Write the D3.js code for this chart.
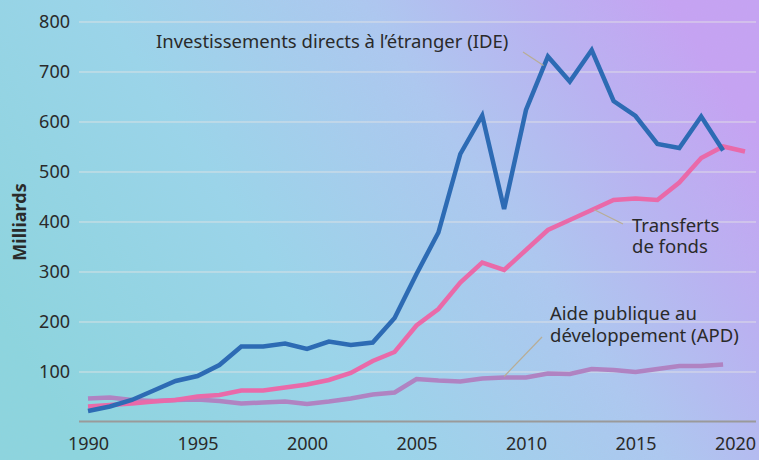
<!DOCTYPE html>
<html>
<head>
<meta charset="utf-8">
<script src="https://cdn.jsdelivr.net/npm/d3@7"></script>
<style>
  html, body { margin: 0; padding: 0; }
  body { width: 759px; height: 460px; overflow: hidden; }
  text { font-family: "Noto Sans", sans-serif; fill: #2a2a2a; }
</style>
</head>
<body>
<div id="chart"></div>
<script>
// Data (billions).
const years = d3.range(1990, 2021);
const ide = [21, 30, 43, 62, 81, 91, 113, 150, 150, 156, 145, 160, 153, 158, 207, 295, 378, 535, 612, 425,
  623, 730, 680, 743, 641, 611, 555, 547, 610, 542];
const transferts = [30, 33, 36, 40, 43, 50, 53, 62, 62, 68, 74, 83, 97, 121, 139, 192, 225, 278, 318, 303,
  343, 383, 403, 423, 443, 446, 443, 478, 527, 550, 540];
const apd = [46, 48, 43, 41, 43, 44, 41, 36, 38, 40, 35, 40, 46, 54, 58, 85, 82, 80, 86, 88,
  88, 96, 95, 105, 103, 99, 105, 111, 111, 114];
const yTicks = [100, 200, 300, 400, 500, 600, 700, 800];
const xTicks = [1990, 1995, 2000, 2005, 2010, 2015, 2020];

const width = 759;
const height = 460;

const svg = d3.select("#chart")
  .append("svg")
  .attr("width", width)
  .attr("height", height);

// Background gradient with a light paper grain.
const defs = svg.append("defs");
const grad = defs.append("linearGradient")
  .attr("id", "bg")
  .attr("x1", "0").attr("y1", "0.7")
  .attr("x2", "1").attr("y2", "0.3");
grad.append("stop").attr("offset", "0").attr("stop-color", "#8cd5df");
grad.append("stop").attr("offset", "0.35").attr("stop-color", "#9ad5eb");
grad.append("stop").attr("offset", "0.65").attr("stop-color", "#adc8f1");
grad.append("stop").attr("offset", "0.85").attr("stop-color", "#bab1f3");
grad.append("stop").attr("offset", "1").attr("stop-color", "#c6a2f4");

const noise = defs.append("filter").attr("id", "grain");
noise.append("feTurbulence")
  .attr("type", "fractalNoise")
  .attr("baseFrequency", "0.8")
  .attr("numOctaves", 2)
  .attr("result", "n");
noise.append("feColorMatrix")
  .attr("type", "matrix")
  .attr("values", "0 0 0 0 0.45  0 0 0 0 0.5  0 0 0 0 0.5  0 0 0 0.08 0");

svg.append("rect").attr("width", width).attr("height", height).attr("fill", "url(#bg)");
svg.append("rect").attr("width", width).attr("height", height).attr("filter", "url(#grain)");

// Scales.
const x = d3.scaleLinear().domain([1990, 2020]).range([88, 745]);
const y = d3.scaleLinear().domain([0, 800]).range([421.5, 21.5]);

// Gridlines and y labels.
const yAxis = svg.append("g")
  .attr("transform", "translate(79,0)")
  .call(d3.axisLeft(y).tickValues(yTicks).tickSize(-677).tickPadding(9));
yAxis.select(".domain").remove();
yAxis.selectAll(".tick line").attr("stroke", "#e4e4e4").attr("stroke-opacity", 0.85);
yAxis.selectAll(".tick text")
  .style("font-family", "Noto Sans, sans-serif")
  .style("font-size", "18px")
  .attr("fill", "#2a2a2a");

// Baseline.
svg.append("line")
  .attr("x1", 79).attr("x2", 756)
  .attr("y1", y(0)).attr("y2", y(0))
  .attr("stroke", "#9a9a9a")
  .attr("stroke-width", 2);

// X labels.
const xAxis = svg.append("g")
  .attr("transform", "translate(0," + y(0) + ")")
  .call(d3.axisBottom(x).tickValues(xTicks).tickFormat(d3.format("d")).tickSize(0).tickPadding(16));
xAxis.select(".domain").remove();
xAxis.selectAll(".tick text")
  .style("font-family", "Noto Sans, sans-serif")
  .style("font-size", "18px")
  .attr("fill", "#2a2a2a")
  .attr("dx", function(d) { return d === 2020 ? -10 : 0; });

// Lines.
const line = d3.line()
  .x(function(d, i) { return x(years[i]); })
  .y(function(d) { return y(d); });

const series = [
  { values: apd, color: "#b083c2" },
  { values: transferts, color: "#e96aa9" },
  { values: ide, color: "#2d6bb4" }
];

svg.selectAll("path.series")
  .data(series)
  .enter()
  .append("path")
  .attr("class", "series")
  .attr("d", function(d) { return line(d.values); })
  .attr("fill", "none")
  .attr("stroke", function(d) { return d.color; })
  .attr("stroke-width", 4.5)
  .attr("stroke-linejoin", "miter");

// Annotations with leader lines.
const leader = "#b8ad95";

function label(x0, y0, lines, lineHeight) {
  const t = svg.append("text")
    .attr("x", x0).attr("y", y0)
    .style("font-size", "18.5px");
  lines.forEach(function(s, i) {
    t.append("tspan")
      .attr("x", x0)
      .attr("dy", i === 0 ? 0 : lineHeight)
      .text(s);
  });
}

svg.append("line")
  .attr("x1", 523).attr("y1", 52)
  .attr("x2", x(2010.8)).attr("y2", y(712))
  .attr("stroke", leader).attr("stroke-width", 1.2);
label(156, 48, ["Investissements directs à l’étranger (IDE)"], 0);

svg.append("line")
  .attr("x1", 623).attr("y1", 224)
  .attr("x2", x(2013.1)).attr("y2", y(424))
  .attr("stroke", leader).attr("stroke-width", 1.2);
label(632, 232, ["Transferts", "de fonds"], 21);

svg.append("line")
  .attr("x1", 542).attr("y1", 337)
  .attr("x2", x(2009)).attr("y2", y(90))
  .attr("stroke", leader).attr("stroke-width", 1.2);
label(550, 320, ["Aide publique au", "développement (APD)"], 22);

// Y axis title.
svg.append("text")
  .attr("transform", "translate(26,222) rotate(-90)")
  .attr("text-anchor", "middle")
  .style("font-size", "18px")
  .style("font-weight", "bold")
  .text("Milliards");
</script>
</body>
</html>
